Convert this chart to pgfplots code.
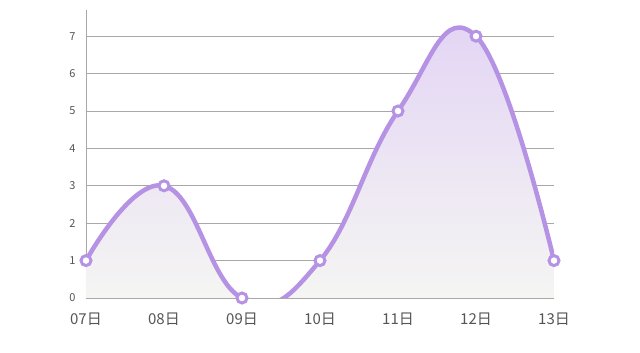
\documentclass[border=0pt]{standalone}
\usepackage{pgfplots}
\pgfplotsset{compat=1.18}
\usepackage{fontspec}
\setmainfont{Noto Sans CJK SC}
\definecolor{lineP}{HTML}{B592E3}
\definecolor{fillTop}{HTML}{E2D3F4}
\definecolor{fillBot}{HTML}{F6F7F3}
\definecolor{gridG}{HTML}{A8A8A8}
\definecolor{txtG}{HTML}{555555}
\begin{document}
\begin{tikzpicture}
\path[use as bounding box] (-86pt,-55pt) rectangle (554pt,298pt);
\begin{axis}[
  at={(0,0)}, anchor=south west,
  scale only axis, width=468pt, height=288pt,
  xmin=0, xmax=6, ymin=0, ymax=7.7,
  axis x line*=bottom, axis y line*=left,
  axis line style={gridG, line width=0.8pt, -},
  xtick={0,...,6},
  xticklabels={07日,08日,09日,10日,11日,12日,13日},
  ytick={0,...,7},
  major tick length=0pt,
  ymajorgrids, grid style={gridG, line width=0.8pt},
  x tick label style={font=\fontsize{15}{15}\selectfont, text=txtG, yshift=-11pt},
  y tick label style={font=\fontsize{11}{11}\selectfont, text=txtG, xshift=-7pt},
  /pgf/number format/assume math mode=true,
  clip=true,
]
\addplot[draw=none, top color=fillTop, bottom color=fillBot, smooth, tension=0.75]
  coordinates {(0,1) (1,3) (2,0) (3,1) (4,5) (5,7) (6,1)} \closedcycle;
\addplot[lineP, line width=4.5pt, smooth, tension=0.75, mark=*, mark size=5pt,
  mark options={fill=white, draw=lineP, line width=3pt}]
  coordinates {(0,1) (1,3) (2,0) (3,1) (4,5) (5,7) (6,1)};
\end{axis}
\end{tikzpicture}
\end{document}
